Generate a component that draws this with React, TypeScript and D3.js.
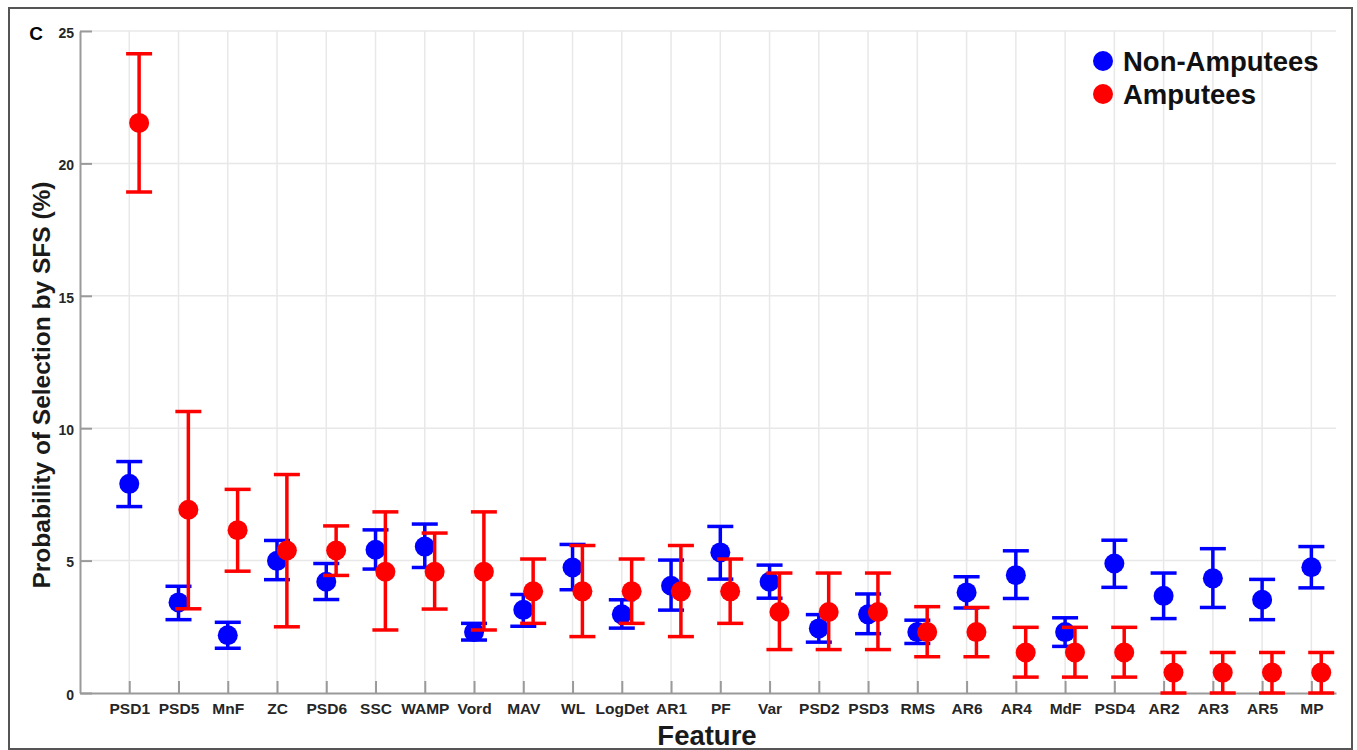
import React, { useEffect, useRef } from "react";
import * as d3 from "d3";

const features = [
  "PSD1", "PSD5", "MnF", "ZC", "PSD6", "SSC", "WAMP", "Vord", "MAV", "WL", "LogDet", "AR1", "PF",
  "Var", "PSD2", "PSD3", "RMS", "AR6", "AR4", "MdF", "PSD4", "AR2", "AR3", "AR5", "MP",
];

// Non-Amputees: mean, upper, lower
const nonMean = [7.9, 3.42, 2.18, 4.99, 4.2, 5.41, 5.53, 2.3, 3.14, 4.74, 2.97, 4.05, 5.31, 4.2, 2.44, 2.97, 2.3, 3.8, 4.45, 2.3, 4.89, 3.67, 4.33, 3.52, 4.75];
const nonUpper = [8.74, 4.03, 2.67, 5.76, 4.89, 6.16, 6.38, 2.63, 3.72, 5.61, 3.52, 5.02, 6.29, 4.83, 2.96, 3.74, 2.75, 4.39, 5.37, 2.84, 5.77, 4.53, 5.45, 4.29, 5.53];
const nonLower = [7.04, 2.77, 1.69, 4.28, 3.53, 4.68, 4.74, 2.0, 2.52, 3.9, 2.45, 3.13, 4.3, 3.58, 1.92, 2.24, 1.87, 3.21, 3.57, 1.76, 3.99, 2.81, 3.23, 2.77, 3.97];

// Amputees: mean, upper, lower
const ampMean = [21.53, 6.92, 6.15, 5.38, 5.38, 4.58, 4.58, 4.58, 3.84, 3.84, 3.84, 3.84, 3.84, 3.06, 3.06, 3.06, 2.3, 2.3, 1.53, 1.53, 1.53, 0.77, 0.77, 0.77, 0.77];
const ampUpper = [24.14, 10.63, 7.69, 8.25, 6.31, 6.84, 6.04, 6.84, 5.06, 5.57, 5.06, 5.57, 5.06, 4.53, 4.53, 4.53, 3.26, 3.23, 2.48, 2.48, 2.48, 1.53, 1.53, 1.53, 1.53];
const ampLower = [18.92, 3.18, 4.6, 2.5, 4.44, 2.38, 3.17, 2.38, 2.63, 2.13, 2.63, 2.13, 2.63, 1.64, 1.64, 1.64, 1.37, 1.37, 0.6, 0.6, 0.6, 0, 0, 0, 0];

const yTicks = [0, 5, 10, 15, 20, 25];

const W = 1357;
const H = 750;
const font = "'Liberation Sans', Arial, Helvetica, sans-serif";

const App = () => {
  const svgRef = useRef<SVGSVGElement | null>(null);

  useEffect(() => {
    const svg = d3.select(svgRef.current);
    svg.selectAll("*").remove();

    const left = 80, right = 1336, top = 31, bottom = 693;

    const x = d3.scaleLinear().domain([0, 25.5]).range([left, right]);
    const y = d3.scaleLinear().domain([0, 25]).range([bottom, top]);

    svg.append("rect").attr("width", W).attr("height", H).attr("fill", "#fff");

    // outer frame
    svg.append("rect")
      .attr("x", 9).attr("y", 8).attr("width", 1343).attr("height", 741)
      .attr("fill", "none").attr("stroke", "#555").attr("stroke-width", 2);

    // grid
    const grid = svg.append("g").attr("stroke", "#e8e8e8").attr("stroke-width", 1.5);
    yTicks.filter((t) => t > 0).forEach((t) => {
      grid.append("line").attr("x1", left).attr("x2", right).attr("y1", y(t)).attr("y2", y(t));
    });
    features.forEach((f, i) => {
      grid.append("line").attr("x1", x(i + 1)).attr("x2", x(i + 1)).attr("y1", top).attr("y2", bottom);
    });

    // axes
    const axisColor = "#9a9a9a";
    const xAxis = svg.append("g")
      .attr("transform", `translate(0,${bottom})`)
      .call(
        d3.axisBottom(x)
          .tickValues(features.map((f, i) => i + 1))
          .tickFormat((d) => features[(d as number) - 1])
          .tickSize(-12)
          .tickPadding(10)
          .tickSizeOuter(0)
      );
    xAxis.attr("font-family", font).attr("font-size", 15.5).attr("font-weight", "bold");
    xAxis.select(".domain").attr("stroke", axisColor).attr("stroke-width", 2);
    xAxis.selectAll(".tick line").attr("stroke", axisColor).attr("stroke-width", 2);
    xAxis.selectAll("text").attr("fill", "#262626");

    const yAxis = svg.append("g")
      .attr("transform", `translate(${left},0)`)
      .call(d3.axisLeft(y).tickValues(yTicks).tickSize(-12).tickPadding(6).tickSizeOuter(0));
    yAxis.attr("font-family", font).attr("font-size", 14).attr("font-weight", "bold");
    yAxis.select(".domain").attr("stroke", axisColor).attr("stroke-width", 2);
    yAxis.selectAll(".tick line").attr("stroke", axisColor).attr("stroke-width", 2);
    yAxis.selectAll("text").attr("fill", "#262626").attr("dy", "0.45em");

    // series
    const series = [
      { color: "#0000ff", off: 0, mean: nonMean, upper: nonUpper, lower: nonLower },
      { color: "#ff0000", off: 0.2, mean: ampMean, upper: ampUpper, lower: ampLower },
    ];
    const capW = 13;
    series.forEach((s) => {
      const g = svg.append("g").attr("stroke", s.color).attr("stroke-width", 3.5).attr("fill", s.color);
      s.mean.forEach((m, i) => {
        const cx = x(i + 1 + s.off);
        g.append("line").attr("x1", cx).attr("x2", cx).attr("y1", y(s.upper[i])).attr("y2", y(s.lower[i]));
        g.append("line").attr("x1", cx - capW).attr("x2", cx + capW).attr("y1", y(s.upper[i])).attr("y2", y(s.upper[i]));
        g.append("line").attr("x1", cx - capW).attr("x2", cx + capW).attr("y1", y(s.lower[i])).attr("y2", y(s.lower[i]));
        g.append("circle").attr("cx", cx).attr("cy", y(m)).attr("r", 10).attr("stroke", "none");
      });
    });

    // labels
    svg.append("text")
      .attr("x", 36).attr("y", 40)
      .attr("text-anchor", "middle")
      .attr("font-family", font).attr("font-weight", "bold").attr("font-size", 19)
      .text("C");

    svg.append("text")
      .attr("x", 707).attr("y", 745)
      .attr("text-anchor", "middle")
      .attr("font-family", font).attr("font-weight", "bold").attr("font-size", 27.5)
      .attr("fill", "#1a1a1a")
      .text("Feature");

    svg.append("text")
      .attr("transform", `translate(50,385) rotate(-90)`)
      .attr("text-anchor", "middle")
      .attr("font-family", font).attr("font-weight", "bold").attr("font-size", 24.5)
      .attr("fill", "#1a1a1a")
      .text("Probability of Selection by SFS (%)");

    // legend
    const legend = [
      { label: "Non-Amputees", color: "#0000ff" },
      { label: "Amputees", color: "#ff0000" },
    ];
    legend.forEach((l, i) => {
      const ly = 61 + i * 33;
      svg.append("circle").attr("cx", 1103).attr("cy", ly).attr("r", 10).attr("fill", l.color);
      svg.append("text")
        .attr("x", 1123).attr("y", ly + 10)
        .attr("font-family", font).attr("font-weight", "bold").attr("font-size", 27.5)
        .attr("fill", "#111")
        .text(l.label);
    });
  }, []);

  return (
    <svg
      ref={svgRef}
      width={W}
      height={H}
      style={{ position: "absolute", left: 0, top: 0, display: "block" }}
    />
  );
};

export default App;
